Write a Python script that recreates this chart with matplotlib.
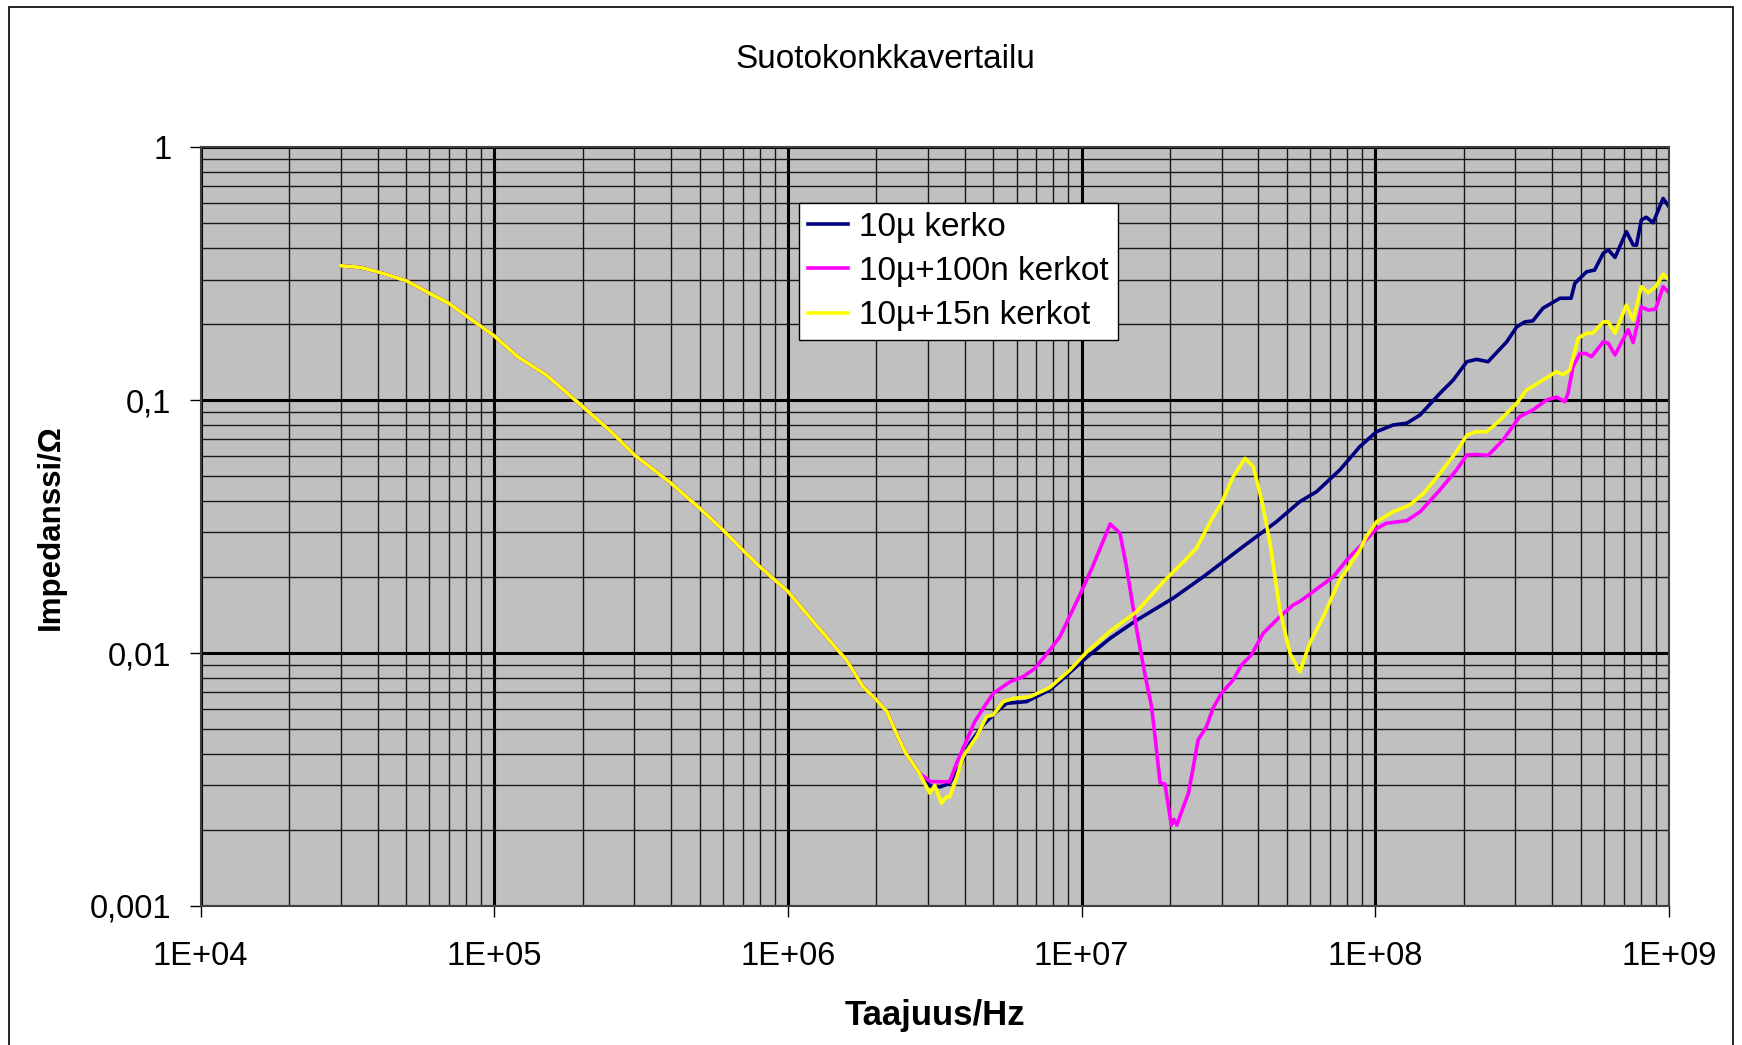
import matplotlib
matplotlib.use("Agg")
import matplotlib.pyplot as plt
from matplotlib.ticker import LogLocator, NullFormatter
from matplotlib.patches import Rectangle

plt.rcParams['font.family'] = ['Liberation Sans', 'DejaVu Sans']

# ---------------- data ----------------
# common low-frequency part (all three measurements coincide)
f_common = [30e3, 35e3, 40e3, 50e3, 60e3, 70e3, 80e3, 100e3, 120e3, 150e3, 200e3,
            250e3, 300e3, 400e3, 500e3, 600e3, 700e3, 800e3, 1.0e6, 1.22e6, 1.58e6,
            1.8e6, 2.0e6, 2.17e6, 2.31e6, 2.5e6, 2.8e6]
z_common = [0.340, 0.335, 0.322, 0.297, 0.265, 0.2415, 0.216, 0.1795, 0.1486, 0.126, 0.0943,
            0.075, 0.0607, 0.0469, 0.0374, 0.0307, 0.0256, 0.022, 0.0175, 0.0133, 0.0094,
            0.00736, 0.00653, 0.00587, 0.00496, 0.00407, 0.00335]

# 10µ kerko
f_a = [3.06e6, 3.3e6, 3.55e6, 3.85e6, 4.16e6, 4.62e6, 5.13e6, 5.55e6, 6.49e6, 7.78e6, 8.4e6,
       10.3e6, 12.5e6, 15.4e6, 20.5e6, 25.9e6, 35.5e6, 46.1e6, 55.3e6, 63.1e6, 75.7e6,
       88.5e6, 101e6, 115e6, 128e6, 142e6, 166e6, 184e6, 205e6, 221e6, 242e6, 280e6,
       303e6, 323e6, 344e6, 372e6, 425e6, 464e6, 478e6, 524e6, 558e6, 597e6, 621e6,
       655e6, 716e6, 755e6, 775e6, 805e6, 837e6, 883e6, 955e6, 1000e6]
z_a = [0.00298, 0.00296, 0.00306, 0.00356, 0.0044, 0.0052, 0.00587, 0.00633, 0.00643, 0.00715, 0.0077,
       0.00953, 0.01144, 0.0135, 0.0165, 0.0200, 0.0264, 0.0331, 0.0397, 0.0435, 0.0530,
       0.0655, 0.0751, 0.0798, 0.0811, 0.0874, 0.1065, 0.120, 0.142, 0.145, 0.142, 0.170,
       0.195, 0.204, 0.206, 0.231, 0.253, 0.253, 0.290, 0.322, 0.327, 0.381, 0.393,
       0.367, 0.464, 0.411, 0.41, 0.516, 0.529, 0.503, 0.628, 0.582]

# 10µ+100n kerkot
f_b = [3.06e6, 3.3e6, 3.55e6, 3.75e6, 4.06e6, 4.32e6, 4.74e6, 5.0e6, 5.7e6, 6.32e6, 6.93e6,
       7.8e6, 8.43e6, 9.86e6, 10.9e6, 12.5e6, 13.5e6, 14.2e6, 15.4e6, 16.4e6, 17.3e6,
       17.75e6, 18.5e6, 19.2e6, 20.2e6, 20.6e6, 21.1e6, 22.2e6, 23.1e6, 24.0e6, 24.9e6,
       26.6e6, 28.0e6, 29.9e6, 32.8e6, 35.0e6, 37.8e6, 41.5e6, 47.3e6, 52.5e6, 55.3e6,
       61.4e6, 64.7e6, 71.8e6, 79.8e6, 90.8e6, 101e6, 109e6, 128e6, 142e6, 166e6, 189e6,
       205e6, 221e6, 242e6, 272e6, 310e6, 344e6, 383e6, 414e6, 442e6, 453e6, 471e6,
       497e6, 520e6, 545e6, 597e6, 621e6, 655e6, 726e6, 755e6, 805e6, 849e6, 900e6,
       955e6, 1000e6]
z_b = [0.0031, 0.0031, 0.0031, 0.00367, 0.00453, 0.00535, 0.00633, 0.00693, 0.0077, 0.00807, 0.0087,
       0.0103, 0.0116, 0.0170, 0.0220, 0.0324, 0.0298, 0.022, 0.01234, 0.0083, 0.00614,
       0.00474, 0.00306, 0.00304, 0.00209, 0.0022, 0.00209, 0.00247, 0.00279, 0.00356, 0.00453,
       0.00512, 0.00605, 0.00693, 0.00783, 0.00897, 0.00982, 0.01198, 0.01393, 0.0155, 0.016,
       0.0175, 0.0183, 0.0200, 0.0233, 0.0272, 0.0311, 0.0326, 0.0334, 0.0362, 0.0442, 0.0530,
       0.0607, 0.061, 0.0605, 0.0695, 0.0861, 0.0915, 0.1002, 0.1028, 0.0987, 0.1065, 0.1357,
       0.153, 0.153, 0.1486, 0.170, 0.168, 0.151, 0.19, 0.169, 0.234, 0.227, 0.229,
       0.281, 0.266]

# 10µ+15n kerkot
f_c = [3.04e6, 3.16e6, 3.33e6, 3.46e6, 3.55e6, 3.7e6, 3.95e6, 4.39e6, 4.74e6, 5.0e6, 5.41e6,
       5.85e6, 6.67e6, 7.78e6, 9.12e6, 10.3e6, 12.5e6, 15.4e6, 19.0e6, 22.5e6, 24.6e6,
       28.0e6, 29.9e6, 32.8e6, 36.0e6, 38.4e6, 41.0e6, 43.8e6, 47.3e6, 51.2e6, 55.3e6,
       59.8e6, 66.4e6, 75.6e6, 79.8e6, 88.5e6, 93.3e6, 101e6, 115e6, 131e6, 146e6, 166e6,
       189e6, 205e6, 221e6, 239e6, 259e6, 303e6, 327e6, 363e6, 414e6, 436e6, 459e6,
       491e6, 524e6, 550e6, 597e6, 621e6, 655e6, 716e6, 755e6, 805e6, 849e6, 900e6,
       955e6, 1000e6]
z_c = [0.00279, 0.0030, 0.00255, 0.0027, 0.0027, 0.00306, 0.0039, 0.00468, 0.0056, 0.0057, 0.00643,
       0.00662, 0.00672, 0.0073, 0.00857, 0.00998, 0.0122, 0.0146, 0.0192, 0.0233, 0.026,
       0.0346, 0.0391, 0.0498, 0.0589, 0.0546, 0.0403, 0.0272, 0.0148, 0.00998, 0.00844,
       0.01094, 0.0139, 0.0195, 0.0213, 0.0256, 0.0289, 0.0331, 0.0362, 0.0385, 0.0428, 0.0514,
       0.0626, 0.0728, 0.0751, 0.075, 0.0811, 0.0972, 0.1097, 0.118, 0.1297, 0.126, 0.1316,
       0.176, 0.184, 0.184, 0.204, 0.204, 0.184, 0.238, 0.2075, 0.281, 0.266, 0.281,
       0.315, 0.299]

series_labels = ["10µ kerko", "10µ+100n kerkot", "10µ+15n kerkot"]
series_colors = ["#000080", "#FF00FF", "#FFFF00"]

x_ticks = [1e4, 1e5, 1e6, 1e7, 1e8, 1e9]
x_ticklabels = ["1E+04", "1E+05", "1E+06", "1E+07", "1E+08", "1E+09"]
y_ticks = [0.001, 0.01, 0.1, 1]
y_ticklabels = ["0,001", "0,01", "0,1", "1"]

title = "Suotokonkkavertailu"
xlabel = "Taajuus/Hz"
ylabel = "Impedanssi/Ω"

# ---------------- figure ----------------
W, H = 1742, 1045
fig = plt.figure(figsize=(W / 100, H / 100), dpi=100)
fig.patch.set_facecolor("white")
fig.patches.append(Rectangle((9 / W, -0.02), (1733 - 9) / W, 1.02 - 7 / H,
                             transform=fig.transFigure, fill=False, edgecolor="black",
                             linewidth=1.2))

L, R, T, B = 200.7, 1669, 147.3, 906
ax = fig.add_axes([L / W, 1 - B / H, (R - L) / W, (B - T) / H])
ax.set_facecolor("#C0C0C0")
ax.set_xscale("log")
ax.set_yscale("log")
ax.set_xlim(1e4, 1e9)
ax.set_ylim(1e-3, 1)

ax.xaxis.set_minor_locator(LogLocator(base=10, subs=range(2, 10), numticks=100))
ax.yaxis.set_minor_locator(LogLocator(base=10, subs=range(2, 10), numticks=100))
ax.xaxis.set_minor_formatter(NullFormatter())
ax.yaxis.set_minor_formatter(NullFormatter())
ax.set_xticks(x_ticks)
ax.set_xticklabels(x_ticklabels)
ax.set_yticks(y_ticks)
ax.set_yticklabels(y_ticklabels)

ax.set_axisbelow(True)
ax.grid(which="minor", color="#181818", linewidth=1.0)
ax.grid(which="major", color="black", linewidth=2.2)

ax.tick_params(which="major", direction="out", length=8, width=1, color="black",
               labelsize=23.5, pad=13)
ax.tick_params(axis="x", which="major", pad=17)
ax.tick_params(which="minor", length=0)
for s in ax.spines.values():
    s.set_color("#404040")
    s.set_linewidth(1.5)

fa = f_common + f_a
za = z_common + z_a
fb = f_common + f_b
zb = z_common + z_b
fc = f_common + f_c
zc = z_common + z_c
for fx, zx, lab, col in zip([fa, fb, fc], [za, zb, zc], series_labels, series_colors):
    ax.plot(fx, zx, color=col, linewidth=2.6, label=lab, solid_joinstyle="round")

fig.text(885 / W, 1 - 60 / H, title, ha="center", va="center", fontsize=24)
ax.set_xlabel(xlabel, fontsize=25, fontweight="bold", labelpad=20)
ax.set_ylabel(ylabel, fontsize=22.5, fontweight="bold", labelpad=17)

leg = ax.legend(loc="upper left", bbox_to_anchor=(799 / W, 1 - 203 / H),
                bbox_transform=fig.transFigure, borderaxespad=0, fontsize=24,
                fancybox=False, shadow=False, framealpha=1, edgecolor="black",
                handlelength=1.2, handletextpad=0.35, labelspacing=0.40,
                borderpad=0.26)
leg.get_frame().set_linewidth(1.0)
for h in leg.get_lines():
    h.set_linewidth(2.6)

fig.savefig("out.png", dpi=100, facecolor="white")
